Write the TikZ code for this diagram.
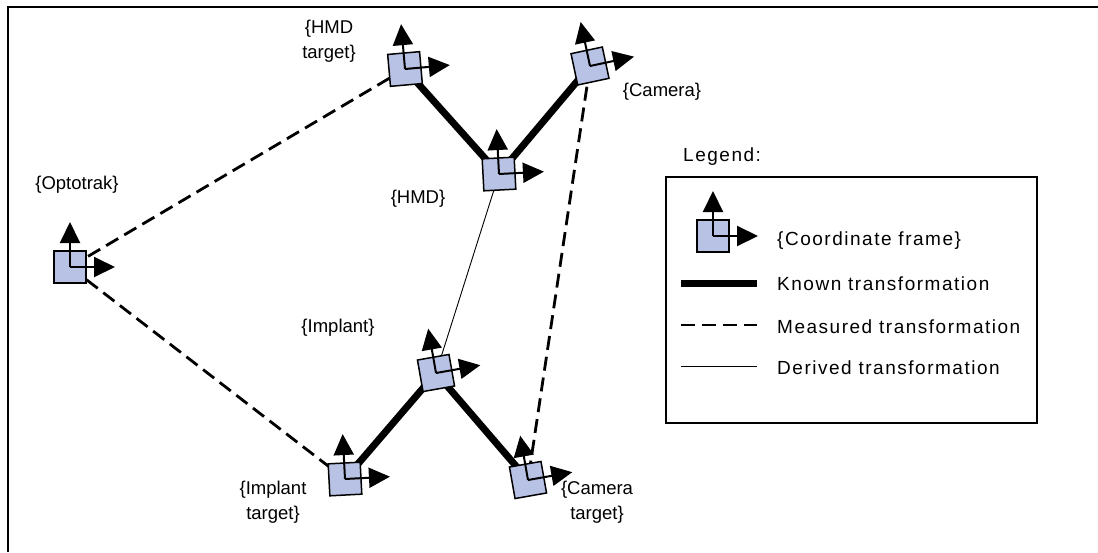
\documentclass[tikz,border=0pt]{standalone}
\usepackage{fontspec}
\setmainfont{Liberation Sans}
\newfontfamily\legfont{Liberation Sans}[LetterSpace=8.0]
\usetikzlibrary{arrows.meta}

\definecolor{framefill}{RGB}{184,194,228}

\tikzset{
  axis/.style={line width=2pt, -{Triangle[length=21pt,width=20pt]}},
  box/.style={draw, line width=1.5pt, fill=framefill},
  known/.style={line width=7pt},
  measured/.style={line width=2.8pt, dash pattern=on 14pt off 7pt},
  derived/.style={line width=0.9pt},
  lbl/.style={font=\fontsize{18.5}{25}\selectfont, align=center, inner sep=0pt},
  leg/.style={font=\legfont\fontsize{19}{24}\selectfont, inner sep=0pt, anchor=west},
  cframe/.pic={
    \draw[box] (-16,-16) rectangle (16,16);
    \draw[axis] (0,0) -- (0,-45);
    \draw[axis] (0,0) -- (45,0);
  }
}

\begin{document}
\begin{tikzpicture}[x=1pt,y=-1pt]
\useasboundingbox (0,0) rectangle (1098,552);
\draw[line width=2pt] (7.5,552) -- (7.5,6.5) -- (1098,6.5);

% frame origins
\coordinate (opto) at (70,267);
\coordinate (hmdt) at (405,69);
\coordinate (hmd)  at (499,174);
\coordinate (cam)  at (590,66);
\coordinate (imp)  at (436,373);
\coordinate (impt) at (345,479);
\coordinate (camt) at (528,480);

% transformations
\draw[measured] (opto) -- (hmdt);
\draw[measured] (opto) -- (impt);
\draw[measured] (cam) -- (camt);
\draw[known] (hmdt) -- (hmd);
\draw[known] (cam) -- (hmd);
\draw[known] (imp) -- (impt);
\draw[known] (imp) -- (camt);
\draw[derived] (hmd) -- (imp);

% coordinate frames
\pic at (opto) {cframe};
\pic[rotate=5] at (hmdt) {cframe};
\pic[rotate=3] at (hmd) {cframe};
\pic[rotate=12] at (cam) {cframe};
\pic[rotate=10] at (imp) {cframe};
\pic[rotate=3] at (impt) {cframe};
\pic[rotate=10] at (camt) {cframe};

% frame labels
\node[lbl] (l-opto) at (77,185) {\{Optotrak\}};
\node[lbl] (l-hmdt) at (329,41) {\{HMD\\target\}};
\node[lbl] (l-hmd)  at (418,199) {\{HMD\}};
\node[lbl] (l-cam)  at (662,92) {\{Camera\}};
\node[lbl] (l-imp)  at (338,328) {\{Implant\}};
\node[lbl] (l-impt) at (273,502) {\{Implant\\target\}};
\node[lbl] (l-camt) at (597,502) {\{Camera\\target\}};

% legend
\node[leg] (l-leg) at (683,157) {Legend:};
\node[draw, line width=1.5pt, minimum width=371pt, minimum height=246pt, inner sep=0pt] (legend) at (851.5,300) {};
\coordinate (legf) at (713,236);
\pic at (legf) {cframe};
\node[leg] (t-frame) at (777,241) {\{Coordinate frame\}};
\coordinate (k1) at (681,283); \coordinate (k2) at (757,283);
\draw[known] (k1) -- (k2);
\node[leg] (t-known) at (777,284) {Known transformation};
\coordinate (m1) at (681,325); \coordinate (m2) at (757,325);
\draw[measured] (m1) -- (m2);
\node[leg] (t-meas) at (777,327) {Measured transformation};
\coordinate (d1) at (681,366); \coordinate (d2) at (757,366);
\draw[derived] (d1) -- (d2);
\node[leg] (t-der) at (777,368) {Derived transformation};
\end{tikzpicture}
\end{document}
